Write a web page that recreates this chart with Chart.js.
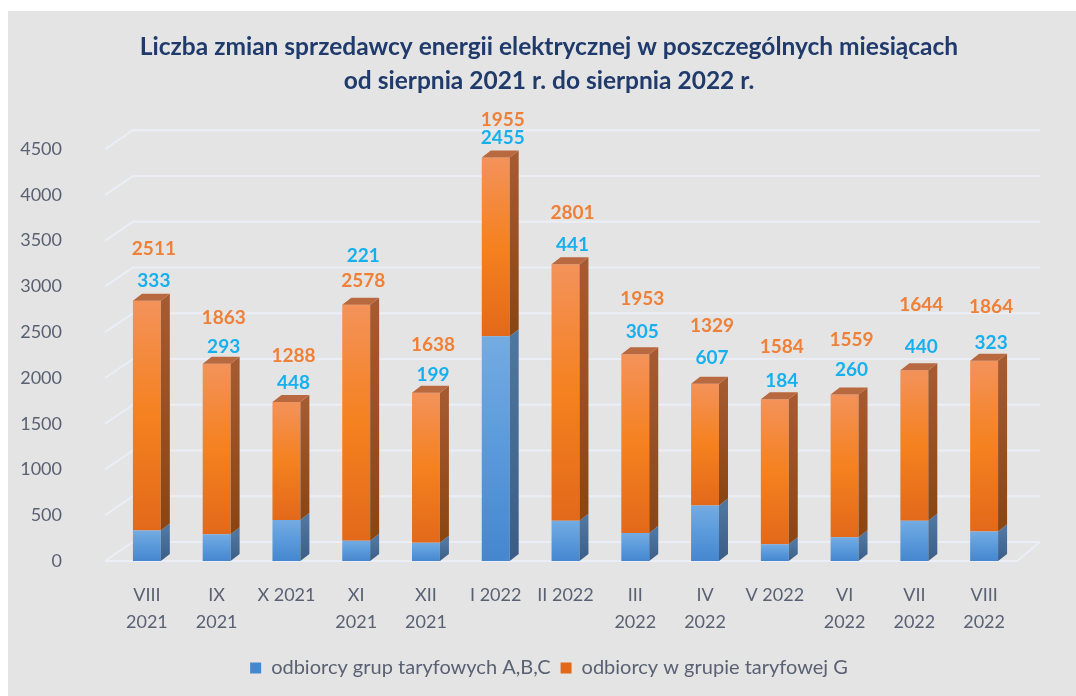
<!DOCTYPE html>
<html>
<head>
<meta charset="utf-8">
<script src="https://cdn.jsdelivr.net/npm/chart.js@4"></script>
<style>
    body { margin: 0; background: #ffffff; }
    #panel { position: absolute; left: 8px; top: 11px; width: 1068px; height: 685px; background: #e4e4e4; }
</style>
</head>
<body>
<div id="panel"><canvas id="switchChart" width="1068" height="685"></canvas></div>
<script>
const months = [
    ['VIII', '2021'], ['IX', '2021'], 'X 2021', ['XI', '2021'], ['XII', '2021'], 'I 2022', 'II 2022',
    ['III', '2022'], ['IV', '2022'], 'V 2022', ['VI', '2022'], ['VII', '2022'], ['VIII', '2022']
];
const groupABC = [333, 293, 448, 221, 199, 2455, 441, 305, 607, 184, 260, 440, 323];
const groupG = [2511, 1863, 1288, 2578, 1638, 1955, 2801, 1953, 1329, 1584, 1559, 1644, 1864];
const yTicks = [0, 500, 1000, 1500, 2000, 2500, 3000, 3500, 4000, 4500];

// how far (px) above the bar top each value label sits
const labelLiftG = [52, 46, 46, 24, 48, 38, 51, 55, 58, 52, 55, 65, 54];
const labelLiftABC = [20, 17, 19, 49, 18, 20, 19, 22, 26, 18, 25, 23, 18];

const DEPTH_X = 9;
const DEPTH_Y = 7;
const textColor = '#596173';

Chart.defaults.font.family = 'Lato, sans-serif';

// vertical gradient for the front face of every stacked piece
function frontFill(stops, bases) {
    return function (ctx) {
        const chart = ctx.chart;
        if (!chart.chartArea || ctx.type !== 'data') return stops[1];
        const y = chart.scales.y;
        const base = bases ? bases[ctx.dataIndex] : 0;
        const g = chart.ctx.createLinearGradient(0, y.getPixelForValue(base + ctx.raw), 0, y.getPixelForValue(base));
        g.addColorStop(0, stops[0]);
        g.addColorStop(0.5, stops[1]);
        g.addColorStop(1, stops[2]);
        return g;
    };
}

const sideColors = [['#4f76a0', '#3a5d86'], ['#a65a30', '#8a4512']];
const topColors = ['#5b84b4', '#b8693f'];

// back wall grid lines + floor, like the old excel 3d look
const wallGrid = {
    id: 'wallGrid',
    beforeDatasetsDraw(chart) {
        const { ctx, chartArea } = chart;
        const y = chart.scales.y;
        const dx = 28, dy = 19;
        ctx.save();
        ctx.strokeStyle = '#ebeef6';
        ctx.lineWidth = 2;
        yTicks.forEach(v => {
            const py = y.getPixelForValue(v);
            const x0 = chartArea.left - 7;
            ctx.beginPath();
            ctx.moveTo(x0, py);
            ctx.lineTo(x0 + dx, py - dy);
            ctx.lineTo(chartArea.right + 21, py - dy);
            if (v === 0) {
                ctx.moveTo(x0, py);
                ctx.lineTo(chartArea.right - 2, py);
                ctx.lineTo(chartArea.right + 21, py - dy);
            }
            ctx.stroke();
        });
        ctx.restore();
    }
};

// side and top faces of the columns
const columns3d = {
    id: 'columns3d',
    afterDatasetsDraw(chart) {
        const ctx = chart.ctx;
        const last = chart.data.datasets.length - 1;
        ctx.save();
        chart.data.datasets.forEach((ds, di) => {
            chart.getDatasetMeta(di).data.forEach(bar => {
                const { x, y, base, width } = bar.getProps(['x', 'y', 'base', 'width'], true);
                const l = x - width / 2;
                const r = x + width / 2;
                const g = ctx.createLinearGradient(0, y, 0, base);
                g.addColorStop(0, sideColors[di][0]);
                g.addColorStop(1, sideColors[di][1]);
                ctx.fillStyle = g;
                ctx.beginPath();
                ctx.moveTo(r, y);
                ctx.lineTo(r + DEPTH_X, y - DEPTH_Y);
                ctx.lineTo(r + DEPTH_X, base - DEPTH_Y);
                ctx.lineTo(r, base);
                ctx.closePath();
                ctx.fill();
                if (di === last) {
                    ctx.fillStyle = topColors[di];
                    ctx.beginPath();
                    ctx.moveTo(l, y);
                    ctx.lineTo(l + DEPTH_X, y - DEPTH_Y);
                    ctx.lineTo(r + DEPTH_X, y - DEPTH_Y);
                    ctx.lineTo(r, y);
                    ctx.closePath();
                    ctx.fill();
                }
            });
        });
        ctx.restore();
    }
};

// value labels above the columns
const valueLabels = {
    id: 'valueLabels',
    afterDatasetsDraw(chart) {
        const ctx = chart.ctx;
        const topMeta = chart.getDatasetMeta(1);
        ctx.save();
        ctx.font = 'bold 19px Lato, sans-serif';
        ctx.textAlign = 'center';
        ctx.textBaseline = 'middle';
        topMeta.data.forEach((bar, i) => {
            const x = bar.x + 7;
            ctx.fillStyle = '#ef8037';
            ctx.fillText(String(groupG[i]), x, bar.y - labelLiftG[i]);
            ctx.fillStyle = '#17b0ee';
            ctx.fillText(String(groupABC[i]), x, bar.y - labelLiftABC[i]);
        });
        ctx.restore();
    }
};

new Chart(document.getElementById('switchChart').getContext('2d'), {
    type: 'bar',
    data: {
        labels: months,
        datasets: [
            {
                label: 'odbiorcy grup taryfowych A,B,C',
                data: groupABC,
                backgroundColor: frontFill(['#74abe2', '#5a9adb', '#4586cf'], null),
                borderWidth: 0,
            },
            {
                label: 'odbiorcy w grupie taryfowej G',
                data: groupG,
                backgroundColor: frontFill(['#f3925a', '#f5811f', '#e2691a'], groupABC),
                borderWidth: 0,
            },
        ],
    },
    options: {
        responsive: false,
        animation: false,
        barPercentage: 0.4,
        categoryPercentage: 1,
        layout: {
            // negative right padding keeps the title and legend centred like the original
            padding: { left: 0, right: -14, top: 0, bottom: 8 },
        },
        scales: {
            x: {
                stacked: true,
                grid: { display: false },
                border: { display: false },
                ticks: {
                    color: textColor,
                    padding: 13,
                    maxRotation: 0,
                    autoSkip: false,
                    font: { size: 18, lineHeight: 1.5 },
                },
                afterFit: scale => { scale.height = 87; },
            },
            y: {
                stacked: true,
                min: 0,
                max: 4500,
                grid: { display: false },
                border: { display: false },
                ticks: {
                    stepSize: 500,
                    color: textColor,
                    padding: 42,
                    font: { size: 18 },
                    callback: v => String(v),
                },
                afterFit: scale => { scale.width = 104; },
            },
            // empty space on the right for the 3d depth
            spacer: {
                type: 'linear',
                axis: 'y',
                position: 'right',
                grid: { display: false },
                border: { display: false },
                ticks: { display: false },
                afterFit: scale => { scale.width = 71; },
            },
        },
        plugins: {
            title: {
                display: true,
                text: [
                    'Liczba zmian sprzedawcy energii elektrycznej w poszczególnych miesiącach',
                    'od sierpnia 2021 r. do sierpnia 2022 r.'
                ],
                color: '#1f3a6b',
                font: { size: 24.5, weight: 'bold', lineHeight: 1.35 },
                padding: { top: 20, bottom: 52 },
            },
            legend: {
                position: 'bottom',
                labels: {
                    color: textColor,
                    boxWidth: 11,
                    boxHeight: 11,
                    padding: 10,
                    font: { size: 20 },
                },
            },
            tooltip: { enabled: false },
        },
    },
    plugins: [wallGrid, columns3d, valueLabels],
});
</script>
</body>
</html>
